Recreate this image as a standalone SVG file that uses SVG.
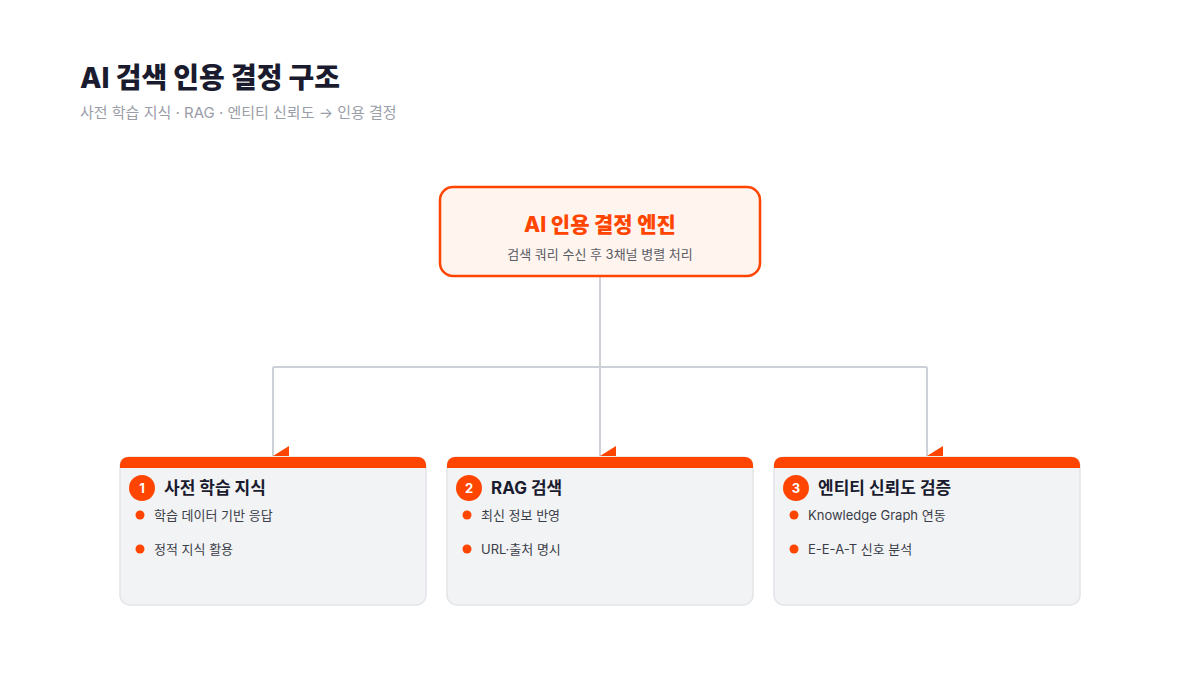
<svg xmlns="http://www.w3.org/2000/svg" width="1200" height="675" viewBox="0 0 1200 675">
<style>
text{font-family:Inter,"Noto Sans CJK KR",sans-serif}
.card{fill:#f2f3f5;stroke:#e3e5e8;stroke-width:1.5}
.bar{fill:#ff4500}
.t{font-size:17px;font-weight:700;fill:#1a1b2e}
.b{font-size:13px;fill:#3a3d48}
.dot{fill:#ff4500}
.n{font-size:13px;font-weight:700;fill:#fff;text-anchor:middle}
.ln{fill:none;stroke:#cdd0d6;stroke-width:2}
.ah{fill:#ff4500}
</style>
<rect width="1200" height="675" fill="#fff"/>
<text x="80" y="88" font-size="28" font-weight="800" fill="#1a1b2e">AI 검색 인용 결정 구조</text>
<text x="80" y="118" font-size="15" fill="#9a9ea8">사전 학습 지식 · RAG · 엔티티 신뢰도 → 인용 결정</text>
<g id="connectors">
<path class="ln" d="M600 277V367M273 367H927M273 367V456M600 367V456M927 367V456"/>
<polygon class="ah" points="273,456 289,446 289,456"/>
<polygon class="ah" points="600,456 616,446 616,456"/>
<polygon class="ah" points="927,456 943,446 943,456"/>
</g>
<g id="engine">
<rect x="440" y="187" width="320" height="89" rx="13" fill="#fff4ee" stroke="#ff4500" stroke-width="2.5"/>
<text x="600" y="232" font-size="21" font-weight="800" fill="#ff4500" text-anchor="middle">AI 인용 결정 엔진</text>
<text x="600" y="259" font-size="13" fill="#5a5d66" text-anchor="middle">검색 쿼리 수신 후 3채널 병렬 처리</text>
</g>
<g id="card1">
<rect class="card" x="120" y="457" width="306" height="148" rx="10"/>
<path class="bar" d="M120 468V465a8 8 0 0 1 8-8H418a8 8 0 0 1 8 8V468Z"/>
<circle cx="142" cy="488" r="13" fill="#ff4500"/><text class="n" x="142" y="493">1</text>
<text class="t" x="164" y="494">사전 학습 지식</text>
<circle class="dot" cx="140" cy="515" r="4.5"/><text class="b" x="154" y="520">학습 데이터 기반 응답</text>
<circle class="dot" cx="140" cy="549" r="4.5"/><text class="b" x="154" y="554">정적 지식 활용</text>
</g>
<g id="card2">
<rect class="card" x="447" y="457" width="306" height="148" rx="10"/>
<path class="bar" d="M447 468V465a8 8 0 0 1 8-8H745a8 8 0 0 1 8 8V468Z"/>
<circle cx="469" cy="488" r="13" fill="#ff4500"/><text class="n" x="469" y="493">2</text>
<text class="t" x="491" y="494">RAG 검색</text>
<circle class="dot" cx="467" cy="515" r="4.5"/><text class="b" x="481" y="520">최신 정보 반영</text>
<circle class="dot" cx="467" cy="549" r="4.5"/><text class="b" x="481" y="554">URL·출처 명시</text>
</g>
<g id="card3">
<rect class="card" x="774" y="457" width="306" height="148" rx="10"/>
<path class="bar" d="M774 468V465a8 8 0 0 1 8-8H1072a8 8 0 0 1 8 8V468Z"/>
<circle cx="796" cy="488" r="13" fill="#ff4500"/><text class="n" x="796" y="493">3</text>
<text class="t" x="818" y="494">엔티티 신뢰도 검증</text>
<circle class="dot" cx="794" cy="515" r="4.5"/><text class="b" x="808" y="520">Knowledge Graph 연동</text>
<circle class="dot" cx="794" cy="549" r="4.5"/><text class="b" x="808" y="554">E-E-A-T 신호 분석</text>
</g>
</svg>
